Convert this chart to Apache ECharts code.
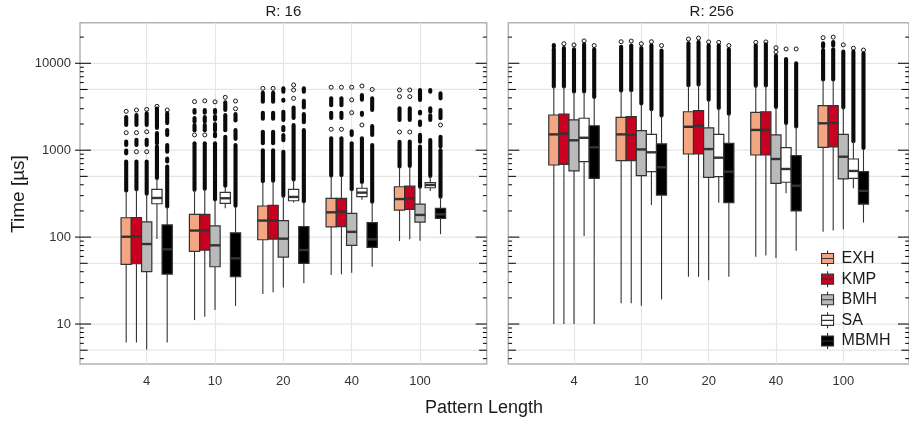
<!DOCTYPE html>
<html><head><meta charset="utf-8">
<script src="https://cdn.jsdelivr.net/npm/echarts@6/dist/echarts.min.js"></script>
<style>html,body{margin:0;padding:0;background:#fff}#c{width:909px;height:423px}</style>
</head><body><div id="c"></div><script>
// ---------------- data ----------------
const categories = ['4', '10', '20', '40', '100'];
const algorithms = ['EXH', 'KMP', 'BMH', 'SA', 'MBMH'];
const algoColors = ['#f4a582', '#ca0020', '#bababa', '#ffffff', '#000000'];
const panelTitles = ['R: 16', 'R: 256'];
const yGridValues = [5, 10, 50, 100, 500, 1000, 5000, 10000];
const yLogTicks = [4, 5, 6, 7, 8, 9, 10, 20, 30, 40, 50, 60, 70, 80, 90, 100, 200, 300, 400, 500, 600, 700, 800, 900,
  1000, 2000, 3000, 4000, 5000, 6000, 7000, 8000, 9000, 10000, 20000];

// box statistics per category: [lower whisker, Q1, median, Q3, upper whisker]
const EXH16 = [[6.15, 48.6, 101, 167, 333], [11.1, 68.7, 119, 183, 348], [22.1, 93.3, 155, 228, 434], [36.6, 131, 193, 279, 500], [90, 205, 274, 380, 640]];
const KMP16 = [[6.15, 49.4, 102, 168, 348], [12.1, 71, 120, 183, 355], [23.2, 95, 155, 232, 440], [37.3, 132, 196, 279, 505], [94.4, 209, 280, 387, 650]];
const BMH16 = [[5.1, 40, 83.3, 150, 311], [14.5, 45.6, 80.5, 135, 269], [26.4, 59, 96, 155, 299], [38.9, 80.5, 115, 188, 350], [91, 149, 180, 240, 377]];
const SA16 = [[95, 242, 282, 355, 470], [215, 245, 280, 328, 380], [250, 262, 290, 355, 454], [270, 292, 325, 365, 420], [340, 370, 398, 423, 500]];
const MBMH16 = [[6.15, 37.6, 72.4, 138, 224], [16.1, 35, 57, 112, 227], [29.4, 50, 71, 132, 255], [45.6, 76.3, 94.4, 147, 253], [108, 164, 183, 214, 289]];

const EXH256 = [[10, 676, 1520, 2540, 5380], [17.3, 757, 1520, 2390, 4840], [35, 904, 1860, 2770, 5570], [59.5, 881, 1710, 2730, 5500], [115, 1080, 2040, 3250, 6500]];
const KMP256 = [[10, 688, 1550, 2610, 5400], [17.3, 757, 1500, 2430, 4900], [35, 904, 1910, 2850, 5700], [61.4, 881, 1710, 2770, 5550], [119, 1090, 2060, 3250, 6500]];
const BMH256 = [[10, 577, 1300, 2230, 4710], [16.2, 509, 1020, 1680, 3437], [32, 488, 1030, 1810, 3790], [57.5, 416, 792, 1500, 3130], [123, 467, 841, 1520, 3100]];
const SA256 = [[103, 738, 1390, 2330, 4718], [234, 566, 946, 1520, 2950], [249, 496, 820, 1520, 3056], [319, 428, 608, 1070, 2030], [366, 475, 577, 792, 1267]];
const MBMH256 = [[10, 475, 1080, 1910, 4060], [19.2, 305, 636, 1180, 2490], [35, 249, 566, 1200, 2630], [69.7, 200, 390, 865, 1860], [147, 240, 340, 566, 1000]];

// outliers per category: [low, high] = dense run of points, [v] = single point
const EXH16_out = [
  [[345, 740], [920, 990], [1150, 1260], [1590], [1950, 2400], [2800]],
  [[350, 1200], [1500], [1700, 1950], [2130, 2350], [2700, 2900], [3620]],
  [[440, 1000], [1200, 1630], [2300, 2700], [3620, 4590], [5150]],
  [[510, 1370], [1740], [2350, 2700], [3300, 3950], [5300]],
  [[650, 1250], [1620], [2230, 3040], [4130], [4930]]];
const KMP16_out = [
  [[355, 740], [960], [1150, 1320], [1590], [1950, 2530], [2900]],
  [[360, 1200], [1500], [1700, 1950], [2130, 2400], [2700, 2900], [3700]],
  [[445, 1000], [1200, 1630], [2300, 2700], [3620, 4590], [5150]],
  [[515, 1370], [1740], [2350, 2700], [3300, 3950], [5300]],
  [[660, 1260], [1620], [2230, 3040], [4130], [4930]]];
const BMH16_out = [
  [[315, 740], [960], [1150, 1320], [1630], [1950, 2650], [2950]],
  [[272, 1200], [1450, 1550], [1700, 2000], [2250, 2450], [2700, 2900], [3600]],
  [[300, 960], [1300, 1490], [1700, 1850], [2230, 2770], [3700, 3800], [4700, 5150]],
  [[355, 1200], [1500, 1650], [2700], [3800], [5300]],
  [[380, 1100], [1250, 1500], [1950, 2130], [2650, 2770], [3790, 4930]]];
const SA16_out = [
  [[480, 1100], [1200, 1580], [1800, 2050], [2130, 3020], [3200]],
  [[390, 1430], [1700, 2530], [2900, 3550], [4060]],
  [[460, 1950], [2350, 3090], [3950], [4930], [5630]],
  [[430, 1370], [1950], [2550, 2700], [3800, 4300], [5480]],
  [[505, 1310], [2230, 2500], [2770, 3040], [4700, 4930]]];
const MBMH16_out = [
  [[225, 650], [740, 800], [960, 1150], [1500, 1700], [2050, 2650], [2900]],
  [[230, 1150], [1350, 1700], [2200, 2600], [3000], [3680]],
  [[258, 1700], [2100, 2600], [3100, 3700], [4700, 5150]],
  [[255, 1150], [1500, 1900], [2900, 3950], [5000]],
  [[292, 1000], [1100, 1430], [1950], [2330, 2900], [3950, 4500]]];

const EXH256_out = [[[5400, 14500], [15500, 16250]], [[4850, 15500], [17700]], [[5600, 17000], [19000]], [[5500, 16000], [17400]], [[6500, 14200], [15500, 17000], [19700]]];
const KMP256_out = [[[5400, 15000], [16800]], [[4900, 16000], [18000]], [[5700, 17500], [19500]], [[5550, 16500], [17600]], [[6500, 14500], [16000, 17500], [20000]]];
const BMH256_out = [[[4750, 14500], [16250]], [[3450, 15000], [16800]], [[3800, 16000], [17600]], [[3150, 12200], [13500], [15100]], [[3100, 13600], [16300]]];
const SA256_out = [[[4750, 16500], [18100]], [[2960, 16000], [17700]], [[3060, 16000], [17400]], [[2050, 11200], [14600]], [[1270, 13600], [14900]]];
const MBMH256_out = [[[4100, 14500], [16000]], [[2500, 14000], [16000]], [[2630, 14500], [16000]], [[1870, 10000], [14600]], [[1060, 13000], [14200]]];

const statsByPanel = [[EXH16, KMP16, BMH16, SA16, MBMH16], [EXH256, KMP256, BMH256, SA256, MBMH256]];
const outByPanel = [[EXH16_out, KMP16_out, BMH16_out, SA16_out, MBMH16_out], [EXH256_out, KMP256_out, BMH256_out, SA256_out, MBMH256_out]];

// ---------------- layout / style ----------------
const FONT = '"Liberation Sans", Arial, Helvetica, sans-serif';
const INK = '#333333';
const GRIDC = '#e5e5e5';
const Y_MIN = 3.47, Y_MAX = 29300;
const X_MIN = 0.024, X_MAX = 5.976;
const DODGE = 0.15, HALF = 0.075;
const panelBoxes = [{left: 80, top: 22.7, width: 406.7, height: 341.3}, {left: 508.3, top: 22.7, width: 406.7, height: 341.3}];

function boxRender(k) {
  return function (params, api) {
    const xc = api.value(0) + (k - 2) * DODGE;
    const p = [1, 2, 3, 4, 5].map(d => api.coord([xc, api.value(d)]));
    const xl = api.coord([xc - HALF, api.value(3)])[0];
    const xr = api.coord([xc + HALF, api.value(3)])[0];
    return {type: 'group', children: [
      {type: 'line', shape: {x1: p[0][0], y1: p[0][1], x2: p[1][0], y2: p[1][1]}, style: {stroke: INK, lineWidth: 1.1}},
      {type: 'line', shape: {x1: p[3][0], y1: p[3][1], x2: p[4][0], y2: p[4][1]}, style: {stroke: INK, lineWidth: 1.1}},
      {type: 'rect', shape: {x: xl, y: p[3][1], width: xr - xl, height: p[1][1] - p[3][1]}, style: {fill: algoColors[k], stroke: INK, lineWidth: 1.2}},
      {type: 'line', shape: {x1: xl, y1: p[2][1], x2: xr, y2: p[2][1]}, style: {stroke: INK, lineWidth: 2.4}}
    ]};
  };
}
function outRender(k) {
  return function (params, api) {
    const xc = api.value(0) + (k - 2) * DODGE;
    const a = api.coord([xc, api.value(1)]);
    const b = api.coord([xc, api.value(2)]);
    if (Math.abs(a[1] - b[1]) < 0.5) {
      return {type: 'circle', shape: {cx: a[0], cy: a[1], r: 2}, style: {fill: 'none', stroke: '#000', lineWidth: 0.9}};
    }
    return {type: 'line', shape: {x1: a[0], y1: a[1], x2: b[0], y2: b[1]}, style: {stroke: '#0a0a0a', lineWidth: 4.1, lineCap: 'round'}};
  };
}
function gridRender(params, api) {
  const cs = params.coordSys;
  const y = api.coord([1, api.value(1)])[1];
  return {type: 'line', shape: {x1: cs.x + 0.8, y1: y, x2: cs.x + cs.width - 0.8, y2: y}, style: {stroke: GRIDC, lineWidth: 1.2}};
}
function tickRender(p) {
  return function (params, api) {
    const cs = params.coordSys;
    const v = api.value(1);
    const y = api.coord([1, v])[1];
    const e = Math.floor(Math.log10(v) + 1e-9);
    const m = Math.round(v / Math.pow(10, e));
    const len = m === 1 ? 11 : (m === 5 ? 7.6 : 3.8);
    const x0 = cs.x - (p === 0 && m === 1 ? 5 : 0);
    const xr = cs.x + cs.width;
    return {type: 'group', children: [
      {type: 'line', shape: {x1: x0, y1: y, x2: cs.x + len, y2: y}, style: {stroke: '#000', lineWidth: 1}},
      {type: 'line', shape: {x1: xr - len, y1: y, x2: xr, y2: y}, style: {stroke: '#000', lineWidth: 1}}
    ]};
  };
}

const series = [];
[0, 1].forEach(p => {
  series.push({type: 'custom', name: 'grid' + p, xAxisIndex: p, yAxisIndex: p, z: 1, silent: true,
    data: yGridValues.map(v => [1, v]), renderItem: gridRender});
  algorithms.forEach((name, k) => {
    series.push({type: 'custom', name: name, xAxisIndex: p, yAxisIndex: p, z: 3, silent: true,
      itemStyle: {color: algoColors[k]},
      encode: {x: 0, y: [1, 2]},
      data: outByPanel[p][k].flatMap((runs, i) => runs.map(r => [i + 1, r[0], r.length > 1 ? r[1] : r[0]])),
      renderItem: outRender(k)});
    series.push({type: 'custom', name: name, xAxisIndex: p, yAxisIndex: p, z: 4, silent: true,
      itemStyle: {color: algoColors[k]},
      encode: {x: 0, y: [1, 2, 3, 4, 5]},
      data: statsByPanel[p][k].map((s, i) => [i + 1].concat(s)),
      renderItem: boxRender(k)});
  });
  series.push({type: 'custom', name: 'ticks' + p, xAxisIndex: p, yAxisIndex: p, z: 6, silent: true, clip: false,
    data: yLogTicks.map(v => [1, v]), renderItem: tickRender(p)});
});

const legendIcon = 'path://M0,3 L12,3 L12,13 L0,13 Z M0,8 L12,8 M6,0 L6,3 M6,13 L6,16';

const option = {
  animation: false,
  backgroundColor: '#ffffff',
  grid: panelBoxes.map(b => Object.assign({show: true, borderColor: '#b3b3b3', borderWidth: 1.5, backgroundColor: '#fff', containLabel: false}, b)),
  xAxis: [0, 1].map(p => ({
    gridIndex: p, type: 'value', min: X_MIN, max: X_MAX,
    axisLine: {show: false},
    axisTick: {show: false, customValues: [1, 2, 3, 4, 5]},
    splitLine: {show: true, lineStyle: {color: GRIDC, width: 1.2}},
    axisLabel: {customValues: [1, 2, 3, 4, 5], margin: 11, fontSize: 13, color: '#333', fontFamily: FONT,
      formatter: v => { const i = Math.round(v); return (Math.abs(v - i) < 1e-6 && i >= 1 && i <= 5) ? categories[i - 1] : ''; }}
  })),
  yAxis: [0, 1].map(p => ({
    gridIndex: p, type: 'log', logBase: 10, min: Y_MIN, max: Y_MAX,
    axisLine: {show: false}, axisTick: {show: false}, splitLine: {show: false}, minorTick: {show: false},
    axisLabel: {show: p === 0, showMinLabel: false, showMaxLabel: false, margin: 9, fontSize: 13, color: '#333', fontFamily: FONT,
      formatter: v => String(Math.round(v))}
  })),
  legend: {
    orient: 'vertical', left: 821, top: 250, padding: 0, itemWidth: 12, itemHeight: 16, itemGap: 3.5, selectedMode: false,
    textStyle: {fontSize: 16, lineHeight: 16, color: '#1a1a1a', fontFamily: FONT, padding: [0, 0, 0, 3]},
    data: algorithms.map((a, k) => ({name: a, icon: legendIcon, itemStyle: {color: algoColors[k], borderColor: INK, borderWidth: 1.1}}))
  },
  graphic: [
    {type: 'text', x: panelBoxes[0].left + panelBoxes[0].width / 2, y: 12, style: {text: panelTitles[0], textAlign: 'center', textVerticalAlign: 'middle', font: '15px ' + FONT, fill: '#1a1a1a'}},
    {type: 'text', x: panelBoxes[1].left + panelBoxes[1].width / 2, y: 12, style: {text: panelTitles[1], textAlign: 'center', textVerticalAlign: 'middle', font: '15px ' + FONT, fill: '#1a1a1a'}},
    {type: 'text', x: 19, y: 194, rotation: Math.PI / 2, style: {text: 'Time [µs]', textAlign: 'center', textVerticalAlign: 'middle', font: '19px ' + FONT, fill: '#1a1a1a'}},
    {type: 'text', x: 484, y: 408, style: {text: 'Pattern Length', textAlign: 'center', textVerticalAlign: 'middle', font: '18px ' + FONT, fill: '#1a1a1a'}}
  ],
  series: series
};
const chart = echarts.init(document.getElementById('c'), null, {renderer: 'canvas'});
chart.setOption(option);
</script></body></html>
